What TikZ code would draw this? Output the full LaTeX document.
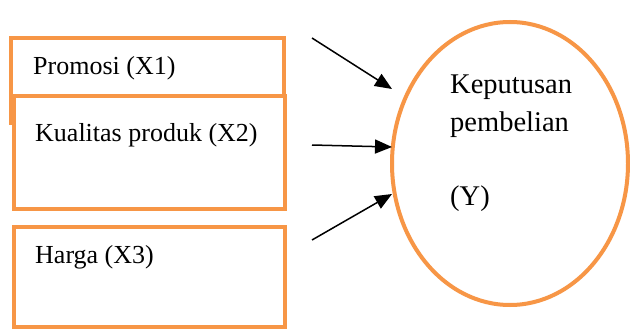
\documentclass[tikz,border=0pt]{standalone}
\usepackage{fontspec}
\setmainfont{Liberation Serif}
\usetikzlibrary{arrows.meta,shapes.geometric}
\definecolor{accorange}{HTML}{F79646}
\tikzset{
  box/.style={draw=accorange,line width=4pt,fill=white,inner sep=0pt,minimum width=#1},
  lbl/.style={anchor=base west,inner sep=0pt,font=\fontsize{26}{30}\selectfont},
  ylbl/.style={anchor=base west,inner sep=0pt,font=\fontsize{28.5}{34}\selectfont},
  arr/.style={line width=1.5pt,-{Triangle[length=17pt,width=14pt]}}
}
\begin{document}
\begin{tikzpicture}[x=1pt,y=-1pt]
\useasboundingbox[fill=white] (0,0) rectangle (630,329);
\node[box=272.5pt,minimum height=84.5pt] (b1) at (147.25,80.75) {};
\node[box=271pt,minimum height=112.5pt] (b2) at (149,152.25) {};
\node[box=271pt,minimum height=100pt] (b3) at (149,277) {};
\node[lbl] (t1) at (33,75) {Promosi (X1)};
\node[lbl] (t2) at (35,141.7) {Kualitas produk (X2)};
\node[lbl] (t3) at (35,263.3) {Harga (X3)};
\node[draw=accorange,line width=4pt,ellipse,minimum width=236pt,minimum height=283pt,inner sep=0pt] (y) at (510,163.5) {};
\node[ylbl] (k1) at (450,94) {Keputusan};
\node[ylbl] (k2) at (450,131.7) {pembelian};
\node[ylbl] (k3) at (450,205.5) {(Y)};
\coordinate (s1) at (312,38);
\coordinate (e1) at (392,89);
\coordinate (s2) at (312,145);
\coordinate (e2) at (392,147);
\coordinate (s3) at (312,240);
\coordinate (e3) at (392,194);
\draw[arr] (s1) -- (e1);
\draw[arr] (s2) -- (e2);
\draw[arr] (s3) -- (e3);
\end{tikzpicture}
\end{document}
